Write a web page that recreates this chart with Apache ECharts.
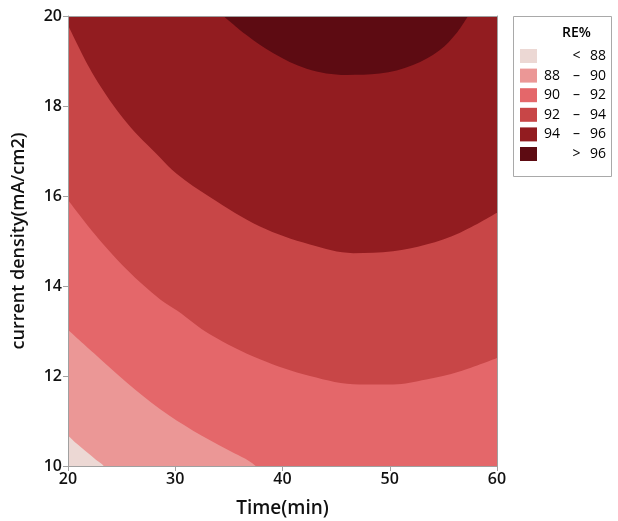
<!DOCTYPE html>
<html><head><meta charset="utf-8">
<script src="https://cdn.jsdelivr.net/npm/echarts/dist/echarts.min.js"></script>
<style>html,body{margin:0;padding:0;background:#fff}#c{width:618px;height:521px}</style>
</head><body><div id="c"></div>
<script>
// Legend bands and colours
const bandLabels = [['', '<', '88'], ['88', '–', '90'], ['90', '–', '92'], ['92', '–', '94'], ['94', '–', '96'], ['', '>', '96']];
const bandColors = ['#ecd8d4', '#eb9796', '#e4676a', '#c84647', '#921c20', '#5d0b12'];

// Contour boundaries: Time(min) / current density(mA/cm2)
// (points past the bottom edge only continue the boundary outside the visible plot)
const c88Time = [20, 20.8, 21.8, 22.6, 23.33, 24.2, 60];
const c88Cd   = [10.68, 10.5, 10.3, 10.14, 10, 9.5, 9.5];

const c90Time = [20, 22.4, 25.5, 28.6, 31.7, 34.8, 37.5, 39, 60];
const c90Cd   = [13.03, 12.51, 11.85, 11.26, 10.78, 10.37, 10, 9.5, 9.5];

const c92Time = [20, 22.4, 25.5, 28.6, 30.2, 33.26, 37.9, 42.56, 47.2, 50.3, 53.4, 56.5, 60];
const c92Cd   = [15.91, 15.18, 14.36, 13.70, 13.45, 12.92, 12.37, 12.0, 11.81, 11.81, 11.92, 12.1, 12.4];

const c94Time = [20, 22.4, 25.5, 28.6, 30.1, 33.26, 37.9, 42.56, 46.6, 50.3, 53.4, 56.5, 60];
const c94Cd   = [19.8, 18.68, 17.62, 16.85, 16.5, 15.97, 15.32, 14.92, 14.73, 14.77, 14.92, 15.18, 15.63];

const c96Time = [34.5, 36.67, 39.15, 42.25, 45.97, 49.07, 52.17, 54.65, 56.2, 57.3];
const c96Cd   = [20, 19.57, 19.17, 18.83, 18.69, 18.72, 18.91, 19.24, 19.61, 20];

const contours = [
  [c88Time, c88Cd], [c90Time, c90Cd], [c92Time, c92Cd], [c94Time, c94Cd], [c96Time, c96Cd]
];

const FONT = 'Open Sans';
const chart = echarts.init(document.getElementById('c'));

const series = contours.map((c, i) => ({
  type: 'line',
  data: c[0].map((t, j) => [t, c[1][j]]),
  smooth: 0.35,
  showSymbol: false,
  silent: true,
  clip: true,
  lineStyle: { width: 0, color: bandColors[i + 1] },
  areaStyle: { origin: 'end', color: bandColors[i + 1], opacity: 1 },
  z: 2 + i
}));

const legendG = [];
legendG.push({ type: 'rect', shape: { x: 513.5, y: 16.5, width: 98, height: 160 },
  style: { fill: '#fff', stroke: '#a9a9a9', lineWidth: 1 } });
legendG.push({ type: 'text', x: 576.5, y: 33.5, style: { text: 'RE%', font: `600 14px "${FONT}"`, fill: '#000', align: 'center', verticalAlign: 'middle' } });
bandLabels.forEach((lab, i) => {
  const cy = 56 + i * 19.6;
  legendG.push({ type: 'rect', shape: { x: 520, y: cy - 7, width: 17, height: 14 }, style: { fill: bandColors[i] } });
  legendG.push({ type: 'text', x: 560, y: cy, style: { text: lab[0], font: `14px "${FONT}"`, fill: '#000', align: 'right', verticalAlign: 'middle' } });
  legendG.push({ type: 'text', x: 576.5, y: cy, style: { text: lab[1], font: `14px "${FONT}"`, fill: '#000', align: 'center', verticalAlign: 'middle' } });
  legendG.push({ type: 'text', x: 606, y: cy, style: { text: lab[2], font: `14px "${FONT}"`, fill: '#000', align: 'right', verticalAlign: 'middle' } });
});

const axisLabelStyle = { color: '#111', fontFamily: FONT, fontSize: 16, fontWeight: 600 };

chart.setOption({
  animation: false,
  backgroundColor: '#fff',
  grid: { left: 68, right: 121, top: 16, bottom: 55, outerBoundsMode: 'none', containLabel: false,
          show: true, backgroundColor: bandColors[0], borderWidth: 0 },
  xAxis: [{
    type: 'value', min: 20, max: 60, interval: 10, z: 10,
    name: 'Time(min)', nameLocation: 'middle', nameGap: 33,
    nameTextStyle: { color: '#111', fontFamily: FONT, fontSize: 19, fontWeight: 600 },
    axisLine: { show: true, lineStyle: { color: '#a0a0a0', width: 1 } },
    axisTick: { show: true, length: 5, lineStyle: { color: '#a0a0a0' } },
    axisLabel: Object.assign({ margin: 5 }, axisLabelStyle),
    splitLine: { show: false }
  }, {
    type: 'value', position: 'top', min: 20, max: 60, z: 10,
    axisLine: { show: true, onZero: false, lineStyle: { color: '#a0a0a0', width: 1 } },
    axisTick: { show: false }, axisLabel: { show: false }, splitLine: { show: false }
  }],
  yAxis: [{
    type: 'value', min: 10, max: 20, interval: 2, z: 10,
    name: 'current density(mA/cm2)', nameLocation: 'middle', nameGap: 40, nameRotate: 90,
    nameTextStyle: { color: '#111', fontFamily: FONT, fontSize: 18, fontWeight: 600 },
    axisLine: { show: true, lineStyle: { color: '#a0a0a0', width: 1 } },
    axisTick: { show: true, length: 5, lineStyle: { color: '#a0a0a0' } },
    axisLabel: Object.assign({ margin: 6 }, axisLabelStyle),
    splitLine: { show: false }
  }, {
    type: 'value', position: 'right', min: 10, max: 20, z: 10,
    axisLine: { show: true, onZero: false, lineStyle: { color: '#a0a0a0', width: 1 } },
    axisTick: { show: false }, axisLabel: { show: false }, splitLine: { show: false }
  }],
  series: series,
  graphic: legendG
});
</script></body></html>
